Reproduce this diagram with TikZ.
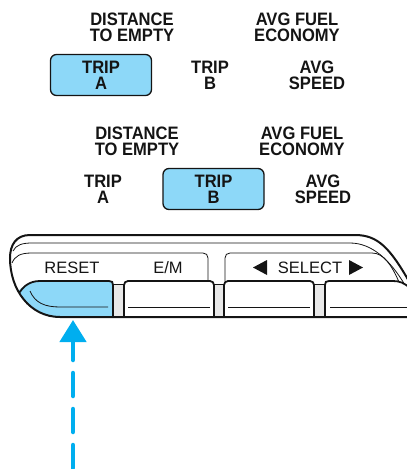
\documentclass[tikz,border=0pt]{standalone}
\usepackage{fontspec}
\setmainfont{Liberation Sans}
\newfontfamily\lblfont{Liberation Sans}[FakeStretch=0.92]
\usetikzlibrary{arrows.meta}
\definecolor{boxblue}{RGB}{141,216,248}
\definecolor{arrowblue}{RGB}{0,174,239}
\definecolor{gapgray}{RGB}{232,232,232}
\definecolor{ink}{RGB}{20,20,20}
\begin{document}
\begin{tikzpicture}[x=1pt,y=-1pt,
  lbl/.style={font=\lblfont\bfseries\fontsize{18}{16}\selectfont, align=center, inner sep=0pt, text=ink},
  selbox/.style={draw=ink, line width=1.3pt, fill=boxblue, rounded corners=6pt, minimum width=101pt, minimum height=41pt},
  keylbl/.style={font=\fontsize{16.5}{18}\selectfont, inner sep=0pt, text=ink},
  bodyline/.style={draw=ink, line width=2pt},
  btnline/.style={draw=ink, line width=1.8pt},
  thinline/.style={draw=ink, line width=0.8pt},
  pointer/.style={draw=arrowblue, line width=4.5pt, line cap=round, dash pattern=on 23pt off 13pt, dash phase=29pt, -{Triangle[width=26pt,length=22pt,fill=arrowblue]}}
]
\useasboundingbox (0,0) rectangle (407,469);
\clip (0,0) rectangle (407,469);

% ---- display state 1 ----
\node[lbl] (dte1) at (132,27.5) {DISTANCE\\TO EMPTY};
\node[lbl] (afe1) at (297,27.5) {AVG FUEL\\ECONOMY};
\node[selbox,lbl] (tripA1) at (101,75) {TRIP\\A};
\node[lbl] (tripB1) at (210,75.5) {TRIP\\B};
\node[lbl] (spd1) at (317,75.5) {AVG\\SPEED};

% ---- display state 2 ----
\node[lbl] (dte2) at (137,141) {DISTANCE\\TO EMPTY};
\node[lbl] (afe2) at (302,141) {AVG FUEL\\ECONOMY};
\node[lbl] (tripA2) at (103,189) {TRIP\\A};
\node[selbox,lbl] (tripB2) at (213.5,189) {TRIP\\B};
\node[lbl] (spd2) at (323,189) {AVG\\SPEED};

% ---- button panel ----
% gaps between buttons
\fill[gapgray] (113,284) rectangle (124,317);
\fill[gapgray] (214,284) rectangle (224,317);
\fill[gapgray] (314,284) rectangle (325,317);
\draw[thinline] (113,284) -- (124,284);
\draw[thinline] (214,284) -- (224,284);
\draw[thinline] (314,284) -- (325,284);

% blue RESET button fill, clipped by body outline
\begin{scope}
  \clip (10,250) -- (10,258) .. controls (10,290) and (30,317) .. (60,317) -- (113,317) -- (113,250) -- cycle;
  \fill[boxblue] (113,318) -- (113,281) -- (40,281) .. controls (28,281) and (20,288) .. (12,298) -- (12,320) -- (113,320) -- cycle;
\end{scope}

% inner thin contour
\draw[thinline] (13,251) .. controls (16,245) and (22,243) .. (32,243) -- (350,243) .. controls (372,243) and (390,260) .. (405,285);
% label panels
\draw[thinline] (12,263) .. controls (15,256) and (20,253) .. (32,253) -- (203,253) .. controls (206,253) and (208,255) .. (208,258) -- (208,281);
\draw[thinline] (225,281) -- (225,258) .. controls (225,255) and (227,253) .. (230,253) -- (372,253) .. controls (384,253) and (392,266) .. (399,282);

% buttons
\draw[btnline] (113,317) -- (113,285) .. controls (113,282) and (112,281) .. (109,281) -- (40,281) .. controls (29,281) and (23,287) .. (19,293);
\draw[btnline, rounded corners=4pt] (124,317) -- (124,281) -- (214,281) -- (214,317);
\draw[btnline, rounded corners=4pt] (224,317) -- (224,281) -- (314,281) -- (314,317);
\draw[btnline] (325,317) -- (325,285) .. controls (325,282) and (326,281) .. (329,281) -- (393,281) .. controls (400,281) and (404,283) .. (410,288);

% thin lines near bottom of buttons
\draw[thinline] (30,291) .. controls (35,303) and (45,307) .. (60,307) -- (108,307);
\draw[thinline] (128,307) -- (210,307);
\draw[thinline] (228,307) -- (310,307);
\draw[thinline] (330,307) -- (407,307);

% body outline
\draw[bodyline] (410,283) .. controls (390,248) and (378,235) .. (355,235) -- (30,235) .. controls (16,235) and (10,245) .. (10,258) .. controls (10,290) and (30,317) .. (60,317) -- (410,317);

% key labels
\node[keylbl] (reset) at (72,268) {RESET};
\node[keylbl] (em) at (168,268) {E/M};
\node[keylbl] (select) at (310,268) {SELECT};
\fill[ink] (253,267.5) -- (267,260) -- (267,275) -- cycle;
\fill[ink] (363,267.5) -- (349,260) -- (349,275) -- cycle;

% pointer arrow
\coordinate (arrowstart) at (73,475);
\coordinate (arrowtip) at (73,320);
\draw[pointer] (arrowstart) -- (arrowtip);
\end{tikzpicture}
\end{document}
